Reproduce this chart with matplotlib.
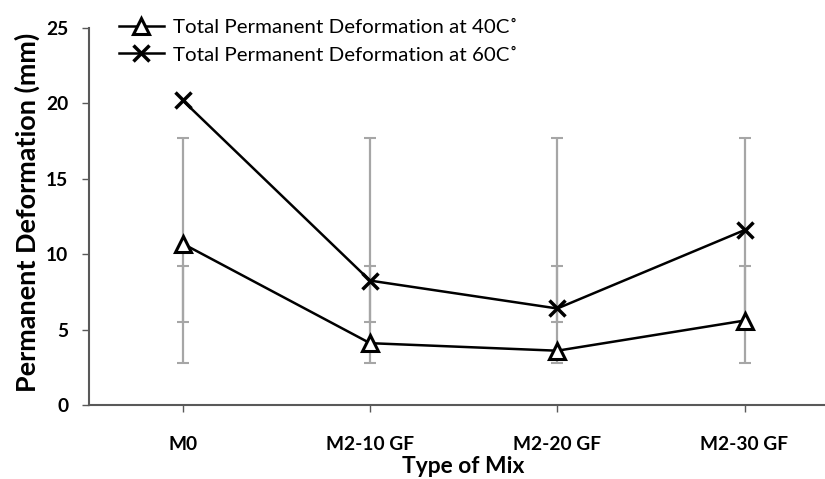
import matplotlib
matplotlib.use('Agg')
import matplotlib.pyplot as plt
import numpy as np

# Data
mixes = ['M0', 'M2-10 GF', 'M2-20 GF', 'M2-30 GF']
deform_40c = [10.7, 4.1, 3.6, 5.6]
deform_60c = [20.2, 8.25, 6.4, 11.6]
y_ticks = [0, 5, 10, 15, 20, 25]
labels = ['Total Permanent Deformation at 40C˚', 'Total Permanent Deformation at 60C˚']

plt.rcParams['font.family'] = ['Lato', 'DejaVu Sans']

fig = plt.figure(figsize=(8.25, 4.79), dpi=100)
ax = fig.add_axes([0.108, 0.1545, 0.908, 0.787])
renderer = fig.canvas.get_renderer()


def fit_size(text, weight, target_px, size=12.0):
    """Font size that makes text span target_px pixels."""
    t = fig.text(0, 0, text, fontsize=size, fontweight=weight)
    bb = t.get_window_extent(renderer)
    t.remove()
    return size * target_px / bb.width


tick_fs = fit_size('M2-10 GF', 'bold', 88)
leg_fs = fit_size(labels[0], 'normal', 342)
ylab_fs = fit_size('Permanent Deformation (mm)', 'bold', 358)
xlab_fs = fit_size('Type of Mix', 'bold', 122)

x = np.arange(len(mixes))

# Excel-style standard deviation error bars (centered on series mean)
for series in (deform_40c, deform_60c):
    vals = np.array(series)
    m, s = vals.mean(), vals.std(ddof=1)
    ax.errorbar(x, np.full(len(x), m), yerr=s, fmt='none', ecolor='#a6a6a6',
                elinewidth=1.6, capsize=4, capthick=1.5, zorder=1)

ax.plot(x, deform_40c, '-', color='black', lw=1.8, marker='^', ms=12,
        mfc='white', mec='black', mew=2.2, label=labels[0], zorder=3)
ax.plot(x, deform_60c, '-', color='black', lw=1.8, marker='x', ms=12,
        mec='black', mew=2.5, label=labels[1], zorder=3)

ax.set_xlim(-0.5, 3.5)
ax.set_ylim(0, 25)
ax.set_xticks(x)
ax.set_xticklabels(mixes, fontsize=tick_fs, fontweight='bold')
ax.set_yticks(y_ticks)
ax.set_yticklabels([str(t) for t in y_ticks], fontsize=tick_fs, fontweight='bold')
ax.tick_params(axis='both', direction='out', length=5, width=1, color='#595959')
ax.tick_params(axis='y', pad=10)
ax.tick_params(axis='x', pad=17)

for side in ('top', 'right'):
    ax.spines[side].set_visible(False)
for side in ('left', 'bottom'):
    ax.spines[side].set_color('#595959')
    ax.spines[side].set_linewidth(1.5)

ax.set_ylabel('Permanent Deformation (mm)', fontsize=ylab_fs, fontweight='bold', va='center')
ax.yaxis.set_label_coords(-0.082, 0.512)
ax.set_xlabel('Type of Mix', fontsize=xlab_fs, fontweight='bold', va='center')
ax.xaxis.set_label_coords(0.5, -0.162)

leg = ax.legend(loc='upper left', bbox_to_anchor=(0.144, 0.961), bbox_transform=fig.transFigure,
                frameon=False, fontsize=leg_fs, handlelength=2.2, handletextpad=0.45,
                labelspacing=0.5, borderaxespad=0, borderpad=0)

fig.savefig('out.png', dpi=100)
